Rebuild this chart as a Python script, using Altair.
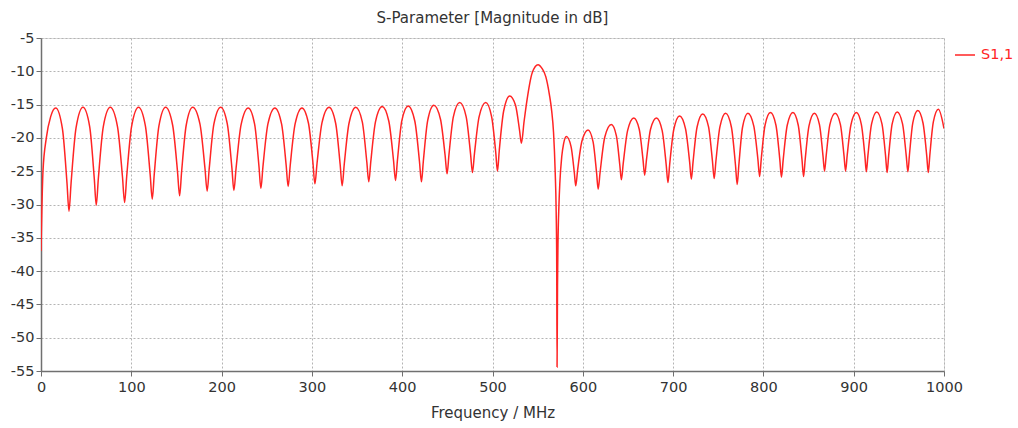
import altair as alt
import pandas as pd

# Frequency (MHz) and |S1,1| (dB)
freq_mhz = [
    0.0, 2.2, 5.9, 10.7, 16.3,
    23.7, 28.8, 31.0, 33.3, 38.8, 46.5,
    53.9, 59.0, 61.2, 63.5, 69.0, 76.7,
    84.7, 90.2, 92.6, 94.9, 100.3, 108.0,
    115.6, 120.9, 123.2, 125.4, 130.6, 138.0,
    145.8, 151.2, 153.5, 155.7, 160.8, 168.0,
    176.0, 181.6, 184.0, 186.3, 191.5, 199.0,
    206.3, 211.4, 213.6, 216.0, 221.6, 229.5,
    236.5, 241.4, 243.5, 245.8, 251.3, 259.0,
    266.4, 271.5, 273.7, 276.0, 281.4, 289.0,
    296.2, 301.2, 303.3, 305.7, 311.2, 319.0,
    326.3, 331.3, 333.5, 335.8, 341.1, 348.6,
    355.8, 360.8, 363.0, 365.2, 370.4, 377.8,
    385.2, 390.4, 392.6, 394.7, 399.6, 406.6,
    414.0, 419.1, 421.3, 423.4, 428.2, 435.0,
    442.4, 447.5, 449.7, 451.8, 456.7, 463.7,
    470.8, 475.7, 477.8, 480.0, 485.2, 492.5,
    499.0, 503.6, 505.5, 507.5, 512.3, 519.0,
    525.5, 530.0, 532.0, 535.0, 538.0, 544.0, 550.4,
    555.0, 559.0, 563.0, 565.5, 567.6, 569.4, 570.5, 571.1, 571.5,
    572.0, 572.5, 573.6, 574.6, 576.7, 578.7, 581.8,
    587.0, 590.6, 592.2, 594.2, 599.0, 605.8,
    611.4, 615.3, 617.0, 619.2, 624.3, 631.6,
    637.2, 641.0, 642.7, 644.8, 649.6, 656.5,
    662.5, 666.7, 668.5, 670.5, 675.0, 681.5,
    687.9, 692.4, 694.3, 696.2, 700.8, 707.2,
    713.7, 718.3, 720.2, 722.1, 726.5, 732.8,
    739.2, 743.6, 745.5, 747.4, 751.9, 758.2,
    764.6, 769.1, 771.0, 772.8, 776.9, 782.8,
    789.3, 793.9, 795.8, 797.6, 801.8, 807.8,
    813.9, 818.2, 820.0, 821.9, 826.4, 832.7,
    838.6, 842.7, 844.5, 846.3, 850.5, 856.5,
    862.1, 866.0, 867.7, 869.5, 873.6, 879.5,
    885.3, 889.3, 891.0, 892.8, 897.0, 903.0,
    908.5, 912.4, 914.0, 915.7, 919.8, 925.5,
    931.3, 935.3, 937.0, 938.7, 942.6, 948.2,
    954.1, 958.2, 960.0, 961.7, 965.5, 971.0,
    976.8, 980.9, 982.6, 984.3, 988.2, 993.8,
    1000.0,
]

s11_db = [
    -37.0, -25.0, -20.0, -16.8, -15.5,
    -18.6, -26.8, -31.0, -26.8, -18.5, -15.4,
    -18.3, -26.1, -30.1, -26.1, -18.3, -15.4,
    -18.3, -25.8, -29.7, -25.8, -18.3, -15.4,
    -18.2, -25.5, -29.2, -25.5, -18.2, -15.4,
    -18.1, -25.1, -28.7, -25.1, -18.1, -15.4,
    -17.9, -24.6, -28.0, -24.6, -17.9, -15.4,
    -17.9, -24.5, -27.9, -24.6, -18.0, -15.5,
    -17.9, -24.3, -27.6, -24.3, -17.9, -15.5,
    -17.9, -24.1, -27.3, -24.1, -17.9, -15.5,
    -17.8, -23.8, -26.9, -23.8, -17.7, -15.4,
    -17.8, -24.0, -27.2, -24.0, -17.8, -15.4,
    -17.6, -23.6, -26.6, -23.6, -17.6, -15.3,
    -17.5, -23.4, -26.4, -23.4, -17.4, -15.2,
    -17.5, -23.5, -26.6, -23.5, -17.4, -15.1,
    -17.2, -22.6, -25.4, -22.5, -16.8, -14.7,
    -16.8, -22.4, -25.2, -22.4, -16.8, -14.7,
    -16.8, -22.2, -25.0, -21.9, -16.0, -13.7,
    -15.1, -18.9, -20.8, -17.5, -14.5, -10.2, -9.0,
    -9.6, -10.8, -13.5, -15.9, -19.2, -25.0, -31.0, -38.0, -54.4,
    -42.0, -36.0, -30.0, -26.7, -22.8, -20.9, -19.8,
    -21.3, -25.2, -27.2, -24.9, -20.5, -18.8,
    -20.6, -25.3, -27.7, -25.1, -19.9, -18.0,
    -19.7, -24.1, -26.3, -23.8, -18.9, -17.0,
    -18.7, -23.3, -25.6, -23.3, -18.7, -17.0,
    -18.9, -24.1, -26.7, -24.0, -18.7, -16.7,
    -18.6, -23.6, -26.2, -23.6, -18.4, -16.4,
    -18.3, -23.5, -26.1, -23.5, -18.3, -16.3,
    -18.4, -24.1, -27.0, -24.1, -18.4, -16.3,
    -18.2, -23.2, -25.8, -23.2, -18.1, -16.2,
    -18.1, -23.3, -25.9, -23.3, -18.1, -16.2,
    -18.1, -23.2, -25.8, -23.2, -18.2, -16.3,
    -18.0, -22.7, -25.0, -22.7, -18.0, -16.3,
    -18.0, -22.7, -25.0, -22.6, -18.0, -16.2,
    -18.0, -22.7, -25.1, -22.7, -17.9, -16.1,
    -17.9, -22.7, -25.2, -22.7, -17.9, -16.1,
    -17.9, -22.7, -25.1, -22.6, -17.7, -15.9,
    -17.8, -22.7, -25.2, -22.6, -17.6, -15.7,
    -18.6,
]

series_name = "S1,1"
x_ticks = [0, 100, 200, 300, 400, 500, 600, 700, 800, 900, 1000]
y_ticks = [-55, -50, -45, -40, -35, -30, -25, -20, -15, -10, -5]

df = pd.DataFrame({"Frequency": freq_mhz, "S11": s11_db, "Series": series_name})

FONT = "DejaVu Sans"
TEXT = "#333333"
RED = "#ff2424"

axis_common = dict(
    labelFont=FONT,
    labelFontSize=14.5,
    labelColor=TEXT,
    labelFlush=False,
    tickColor="#707070",
    tickSize=5,
    domainColor="#707070",
    domainWidth=1.5,
    gridColor="#b4b4b4",
    gridDash=[2, 2],
    gridWidth=1,
    labelExpr="datum.value + ''",
)

chart = (
    alt.Chart(df)
    .mark_line(interpolate="monotone", strokeWidth=1.5, clip=True)
    .encode(
        x=alt.X(
            "Frequency:Q",
            scale=alt.Scale(domain=[0, 1000], nice=False, zero=False),
            axis=alt.Axis(
                values=x_ticks,
                title="Frequency / MHz",
                titleFont=FONT,
                titleFontSize=15,
                titleFontWeight="normal",
                titleColor=TEXT,
                titleBaseline="top",
                titleY=34,
                labelPadding=4,
                **axis_common,
            ),
        ),
        y=alt.Y(
            "S11:Q",
            scale=alt.Scale(domain=[-55, -5], nice=False, zero=False),
            axis=alt.Axis(values=y_ticks, title=None, labelPadding=2, **axis_common),
        ),
        color=alt.Color(
            "Series:N",
            scale=alt.Scale(domain=[series_name], range=[RED]),
            legend=alt.Legend(
                title=None,
                orient="none",
                legendX=913,
                legendY=6,
                symbolType="stroke",
                symbolSize=400,
                symbolStrokeWidth=1.5,
                labelColor=RED,
                labelFont=FONT,
                labelFontSize=14.5,
                labelOffset=5,
                padding=0,
            ),
        ),
    )
    .properties(
        width=903,
        height=333,
        title=alt.TitleParams(
            "S-Parameter [Magnitude in dB]",
            font=FONT,
            fontSize=15,
            fontWeight="normal",
            color=TEXT,
            anchor="middle",
            baseline="alphabetic",
            offset=14,
            dy=22,
        ),
        autosize=alt.AutoSizeParams(type="none"),
        padding={"left": 41, "top": 38, "right": 74, "bottom": 57},
    )
    .configure_view(stroke="#a0a0a0", strokeWidth=1)
    .configure(background="white")
)

chart.save("out.html", embed_options={"renderer": "svg", "actions": False})
